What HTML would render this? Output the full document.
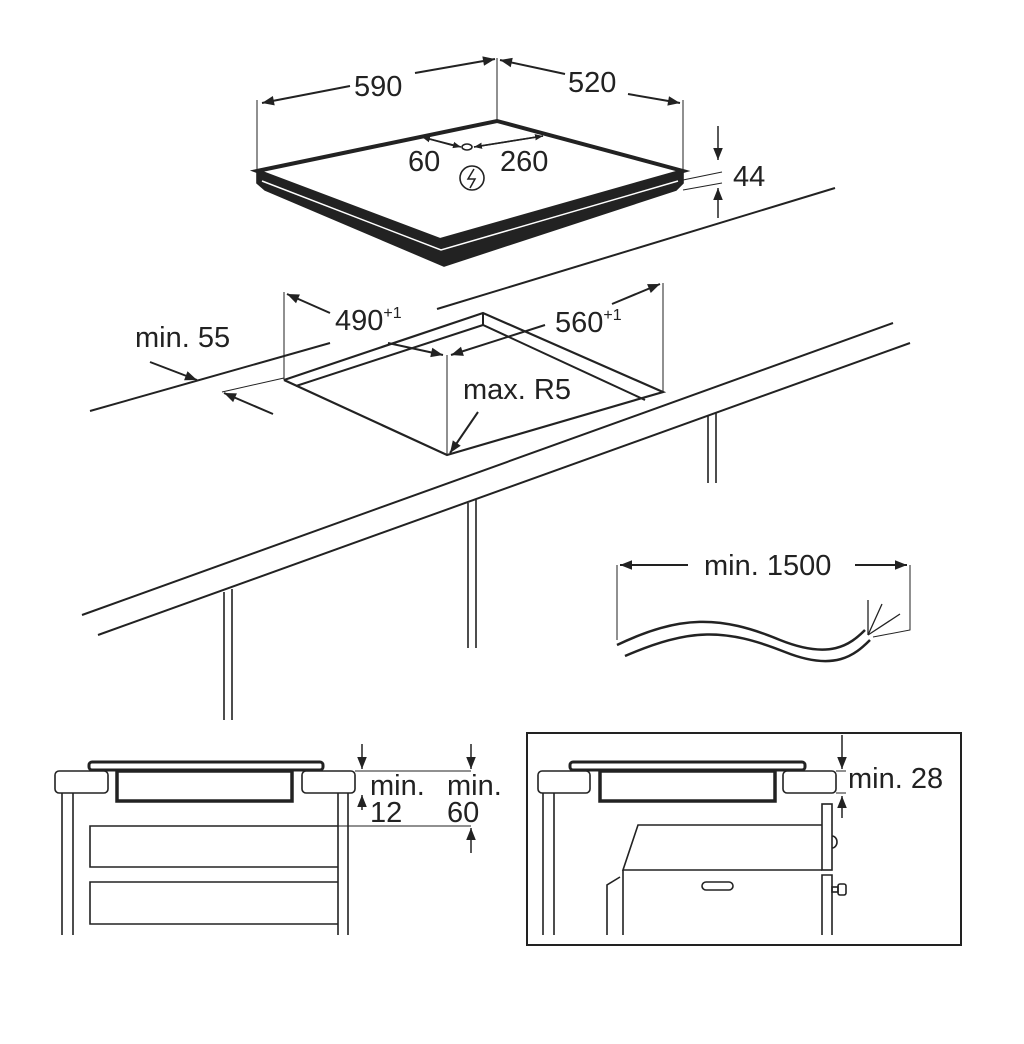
<!DOCTYPE html>
<html><head><meta charset="utf-8"><style>
html,body{margin:0;padding:0;background:#fff}
svg{display:block}
text{font-family:"Liberation Sans",Arial,sans-serif;fill:#222}
</style></head><body>
<svg width="1024" height="1044" viewBox="0 0 1024 1044" xmlns="http://www.w3.org/2000/svg">
<defs>
<marker id="a" viewBox="0 0 10 10" refX="10" refY="5" markerWidth="14" markerHeight="12" markerUnits="userSpaceOnUse" orient="auto"><path d="M0,1 L10,5 L0,9 z" fill="#222"/></marker>
<marker id="s" viewBox="0 0 10 10" refX="10" refY="5" markerWidth="8" markerHeight="8" markerUnits="userSpaceOnUse" orient="auto"><path d="M0,1 L10,5 L0,9 z" fill="#222"/></marker>
</defs>
<g stroke="#222" fill="none" stroke-width="1.6">
<!-- hob -->
<polygon points="257,171 440,240 683,171 683,183 676,190 444,266 265,190 257,183" fill="#222"/>
<polyline points="262,181 441,250 678,181" stroke="#fff" stroke-width="1.5"/>
<polygon points="257,171 497,121 683,171 440,240" fill="#fff" stroke-width="4"/>
<line x1="257" y1="100" x2="257" y2="171" stroke-width="1"/>
<line x1="497" y1="58" x2="497" y2="121" stroke-width="1"/>
<line x1="683" y1="100" x2="683" y2="171" stroke-width="1"/>
<line x1="350" y1="86" x2="262" y2="103" marker-end="url(#a)" stroke-width="2"/>
<line x1="415" y1="73" x2="495" y2="59" marker-end="url(#a)" stroke-width="2"/>
<line x1="565" y1="74" x2="500" y2="60" marker-end="url(#a)" stroke-width="2"/>
<line x1="628" y1="94" x2="680" y2="103" marker-end="url(#a)" stroke-width="2"/>
<line x1="455" y1="146" x2="422" y2="137" marker-end="url(#s)"/>
<line x1="422" y1="137" x2="461" y2="147" marker-end="url(#s)"/>
<ellipse cx="467" cy="147" rx="5" ry="3"/>
<line x1="474" y1="147" x2="543" y2="136" marker-end="url(#s)"/>
<line x1="543" y1="136" x2="474" y2="147" marker-end="url(#s)"/>
<circle cx="472" cy="178" r="12"/>
<path d="M474,169 L468,179 L475,179 L470,188" stroke-width="1.5"/>
<!-- 44 -->
<line x1="683" y1="180" x2="722" y2="172" stroke-width="1"/>
<line x1="683" y1="190" x2="722" y2="183" stroke-width="1"/>
<line x1="718" y1="126" x2="718" y2="160" marker-end="url(#a)" stroke-width="1.5"/>
<line x1="718" y1="218" x2="718" y2="188" marker-end="url(#a)" stroke-width="1.5"/>
<!-- counter -->
<line x1="90" y1="411" x2="330" y2="343" stroke-width="2"/>
<line x1="437" y1="309" x2="835" y2="188" stroke-width="2"/>
<line x1="82" y1="615" x2="893" y2="323" stroke-width="2"/>
<line x1="98" y1="635" x2="910" y2="343" stroke-width="2"/>
<line x1="224" y1="592" x2="224" y2="720"/><line x1="232" y1="589" x2="232" y2="720"/>
<line x1="468" y1="503" x2="468" y2="648"/><line x1="476" y1="500" x2="476" y2="648"/>
<line x1="708" y1="416" x2="708" y2="483"/><line x1="716" y1="413" x2="716" y2="483"/>
<!-- cutout -->
<polyline points="284,380 483,313 663,392 447,455 284,380" stroke-width="2.2"/>
<polyline points="296,386 483,325 645,400" stroke-width="2"/>
<line x1="483" y1="313" x2="483" y2="325" stroke-width="2"/>
<line x1="284" y1="292" x2="284" y2="380" stroke-width="1"/>
<line x1="663" y1="283" x2="663" y2="392" stroke-width="1"/>
<line x1="447" y1="355" x2="447" y2="455" stroke-width="1"/>
<line x1="222" y1="392" x2="284" y2="378" stroke-width="1"/>
<line x1="330" y1="313" x2="287" y2="294" marker-end="url(#a)" stroke-width="2"/>
<line x1="388" y1="343" x2="443" y2="355" marker-end="url(#a)" stroke-width="2"/>
<line x1="545" y1="325" x2="451" y2="355" marker-end="url(#a)" stroke-width="2"/>
<line x1="612" y1="304" x2="660" y2="284" marker-end="url(#a)" stroke-width="2"/>
<line x1="478" y1="412" x2="450" y2="453" marker-end="url(#a)" stroke-width="2"/>
<line x1="150" y1="362" x2="197" y2="380" marker-end="url(#a)" stroke-width="2"/>
<line x1="273" y1="414" x2="224" y2="393" marker-end="url(#a)" stroke-width="2"/>
<!-- cable -->
<polyline points="617,640 617,565" stroke-width="1"/>
<line x1="688" y1="565" x2="620" y2="565" marker-end="url(#a)" stroke-width="2"/>
<line x1="855" y1="565" x2="907" y2="565" marker-end="url(#a)" stroke-width="2"/>
<polyline points="910,565 910,630 873,637" stroke-width="1"/>
<path d="M617,645 C680,615 720,615 780,640 C830,660 850,645 865,630" stroke-width="2.5"/>
<path d="M625,656 C690,628 725,628 785,652 C835,672 855,655 870,640" stroke-width="2.5"/>
<line x1="868" y1="635" x2="868" y2="600" stroke-width="1.3"/>
<line x1="868" y1="635" x2="882" y2="604" stroke-width="1.3"/>
<line x1="868" y1="635" x2="900" y2="614" stroke-width="1.3"/>
<!-- bottom left -->
<rect x="55" y="771" width="53" height="22" rx="4"/>
<rect x="302" y="771" width="53" height="22" rx="4"/>
<rect x="117" y="771" width="175" height="30" stroke-width="3.5"/>
<rect x="89" y="762" width="234" height="8" rx="3" stroke-width="3"/>
<line x1="62" y1="793" x2="62" y2="935"/><line x1="73" y1="793" x2="73" y2="935"/>
<line x1="338" y1="793" x2="338" y2="935"/><line x1="348" y1="793" x2="348" y2="935"/>
<polyline points="338,826 90,826 90,867 338,867"/>
<polyline points="338,882 90,882 90,924 338,924"/>
<line x1="355" y1="771" x2="471" y2="771" stroke-width="1"/>
<line x1="338" y1="826" x2="471" y2="826" stroke-width="1"/>
<line x1="362" y1="744" x2="362" y2="769" marker-end="url(#a)" stroke-width="1.5"/>
<line x1="362" y1="810" x2="362" y2="795" marker-end="url(#a)" stroke-width="1.5"/>
<line x1="471" y1="744" x2="471" y2="769" marker-end="url(#a)" stroke-width="1.5"/>
<line x1="471" y1="853" x2="471" y2="828" marker-end="url(#a)" stroke-width="1.5"/>
<!-- bottom right -->
<rect x="527" y="733" width="434" height="212" stroke-width="2"/>
<rect x="538" y="771" width="52" height="22" rx="4"/>
<rect x="783" y="771" width="53" height="22" rx="4"/>
<rect x="600" y="771" width="175" height="30" stroke-width="3.5"/>
<rect x="570" y="762" width="235" height="8" rx="3" stroke-width="3"/>
<line x1="543" y1="793" x2="543" y2="935"/><line x1="554" y1="793" x2="554" y2="935"/>
<rect x="822" y="804" width="10" height="66"/>
<path d="M832,836 A5,6 0 0 1 832,848"/>
<polyline points="822,935 822,875 832,875 832,935"/>
<rect x="832" y="887" width="6" height="5"/><rect x="838" y="884" width="8" height="11" rx="2"/>
<polyline points="822,825 638,825 623,870 822,870"/>
<line x1="623" y1="870" x2="623" y2="935"/>
<polyline points="620,877 607,885 607,935"/>
<rect x="702" y="882" width="31" height="8" rx="4"/>
<line x1="836" y1="771" x2="846" y2="771" stroke-width="1"/>
<line x1="836" y1="793" x2="846" y2="793" stroke-width="1"/>
<line x1="842" y1="735" x2="842" y2="769" marker-end="url(#a)" stroke-width="1.5"/>
<line x1="842" y1="818" x2="842" y2="796" marker-end="url(#a)" stroke-width="1.5"/>
</g>
<g font-size="29">
<text x="354" y="96">590</text>
<text x="568" y="92">520</text>
<text x="408" y="171">60</text>
<text x="500" y="171">260</text>
<text x="733" y="186">44</text>
<text x="335" y="330">490<tspan font-size="16" dy="-12">+1</tspan></text>
<text x="555" y="332">560<tspan font-size="16" dy="-12">+1</tspan></text>
<text x="135" y="347">min. 55</text>
<text x="463" y="399">max. R5</text>
<text x="704" y="575">min. 1500</text>
<text x="370" y="795">min.</text>
<text x="370" y="822">12</text>
<text x="447" y="795">min.</text>
<text x="447" y="822">60</text>
<text x="848" y="788">min. 28</text>
</g>
</svg>
</body></html>
